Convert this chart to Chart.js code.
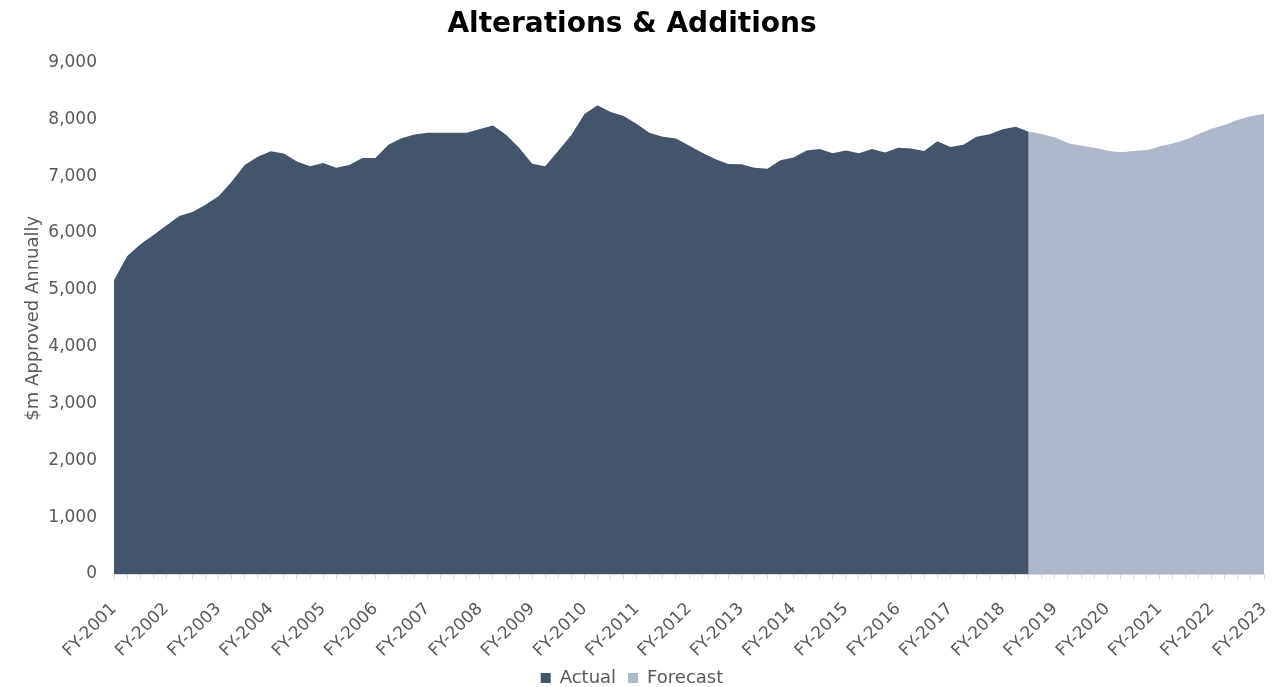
<!DOCTYPE html>
<html lang="en">
<head>
    <meta charset="UTF-8">
    <title>Alterations &amp; Additions</title>
    <script src="https://cdn.jsdelivr.net/npm/chart.js"></script>
    <style>
        body { margin: 0; padding: 0; background-color: #fff; }
        #chartContainer { width: 1276px; height: 687px; }
    </style>
</head>
<body>
    <div id="chartContainer">
        <canvas id="aaChart"></canvas>
    </div>

    <script>
        // Fiscal years shown on the x axis, one label per year (first quarter)
        const fiscalYears = [
            'FY-2001', 'FY-2002', 'FY-2003', 'FY-2004', 'FY-2005', 'FY-2006',
            'FY-2007', 'FY-2008', 'FY-2009', 'FY-2010', 'FY-2011', 'FY-2012',
            'FY-2013', 'FY-2014', 'FY-2015', 'FY-2016', 'FY-2017', 'FY-2018',
            'FY-2019', 'FY-2020', 'FY-2021', 'FY-2022', 'FY-2023'
        ];

        // Quarterly $m approved (annualised), FY-2001 Q1 .. FY-2018 Q3
        const actualValues = [
            5170, 5590, 5800, 5960, 6135, 6300, 6370, 6500, 6650, 6905,
            7200, 7345, 7440, 7400, 7260, 7175, 7235, 7150, 7200, 7320,
            7320, 7555, 7670, 7735, 7765, 7765, 7765, 7765, 7830, 7895,
            7730, 7500, 7220, 7175, 7450, 7725, 8095, 8250, 8130, 8060,
            7920, 7760, 7695, 7665, 7540, 7415, 7305, 7215, 7210, 7150,
            7130, 7280, 7330, 7455, 7480, 7405, 7455, 7405, 7480, 7420,
            7500, 7490, 7445, 7615, 7515, 7555, 7695, 7740, 7825, 7870,
            7785
        ];

        // Forecast picks up at the last actual quarter and runs to FY-2023 Q1
        const forecastValues = [
            7785, 7745, 7680, 7585, 7540, 7500, 7455, 7425, 7445, 7460,
            7525, 7575, 7645, 7745, 7835, 7905, 7990, 8055, 8095
        ];

        const yTicks = { min: 0, max: 9000, step: 1000 };

        const labels = [];
        fiscalYears.forEach((fy, i) => {
            const quarters = i === fiscalYears.length - 1 ? 1 : 4;
            for (let q = 1; q <= quarters; q++) labels.push(fy + ' Q' + q);
        });

        const forecastStart = actualValues.length - 1;
        const actualData = labels.map((_, i) => i < actualValues.length ? actualValues[i] : null);
        const forecastData = labels.map((_, i) => i >= forecastStart ? forecastValues[i - forecastStart] : null);

        const grey = '#595959';
        Chart.defaults.font.family = "'DejaVu Sans', sans-serif";
        Chart.defaults.color = grey;

        const ctx = document.getElementById('aaChart').getContext('2d');
        new Chart(ctx, {
            type: 'line',
            data: {
                labels: labels,
                datasets: [
                    {
                        label: 'Actual',
                        data: actualData,
                        backgroundColor: '#44546a',
                        borderColor: '#44546a',
                        borderWidth: 0,
                        fill: 'origin',
                        pointRadius: 0,
                        tension: 0
                    },
                    {
                        label: 'Forecast',
                        data: forecastData,
                        backgroundColor: '#adb9ca',
                        borderColor: '#adb9ca',
                        borderWidth: 0,
                        fill: 'origin',
                        pointRadius: 0,
                        tension: 0.3
                    }
                ]
            },
            options: {
                responsive: true,
                maintainAspectRatio: false,
                animation: false,
                layout: { padding: { left: 0, right: 12, top: 0, bottom: -10 } },
                scales: {
                    x: {
                        offset: false,
                        grid: {
                            drawOnChartArea: false,
                            drawTicks: true,
                            tickLength: 5,
                            color: '#d9d9d9'
                        },
                        border: { display: true, color: '#d9d9d9', width: 1 },
                        ticks: {
                            autoSkip: false,
                            maxRotation: 45,
                            minRotation: 45,
                            padding: 20,
                            color: grey,
                            font: { size: 17 },
                            callback: (value, index) => index % 4 === 0 ? fiscalYears[index / 4] : ''
                        },
                        afterFit: (scale) => {
                            scale.height = 83;
                            scale.paddingLeft = 0;
                            scale.paddingRight = 0;
                        }
                    },
                    y: {
                        min: yTicks.min,
                        max: yTicks.max,
                        grid: { display: false, drawTicks: false },
                        border: { display: false },
                        ticks: {
                            stepSize: yTicks.step,
                            padding: 17,
                            color: grey,
                            font: { size: 17 },
                            callback: (v) => v.toLocaleString('en-US')
                        },
                        title: {
                            display: true,
                            text: '$m Approved Annually',
                            color: grey,
                            font: { size: 18 },
                            padding: { top: 23, bottom: 0 }
                        },
                        afterFit: (scale) => { scale.width = 114; }
                    }
                },
                plugins: {
                    title: {
                        display: true,
                        text: 'Alterations & Additions',
                        color: '#000',
                        font: { size: 28, weight: 'bold' },
                        padding: { top: 8, bottom: 21 }
                    },
                    legend: {
                        position: 'bottom',
                        labels: {
                            boxWidth: 10,
                            boxHeight: 10,
                            padding: 12,
                            color: grey,
                            font: { size: 18 }
                        }
                    },
                    tooltip: { enabled: false }
                }
            }
        });
    </script>
</body>
</html>
